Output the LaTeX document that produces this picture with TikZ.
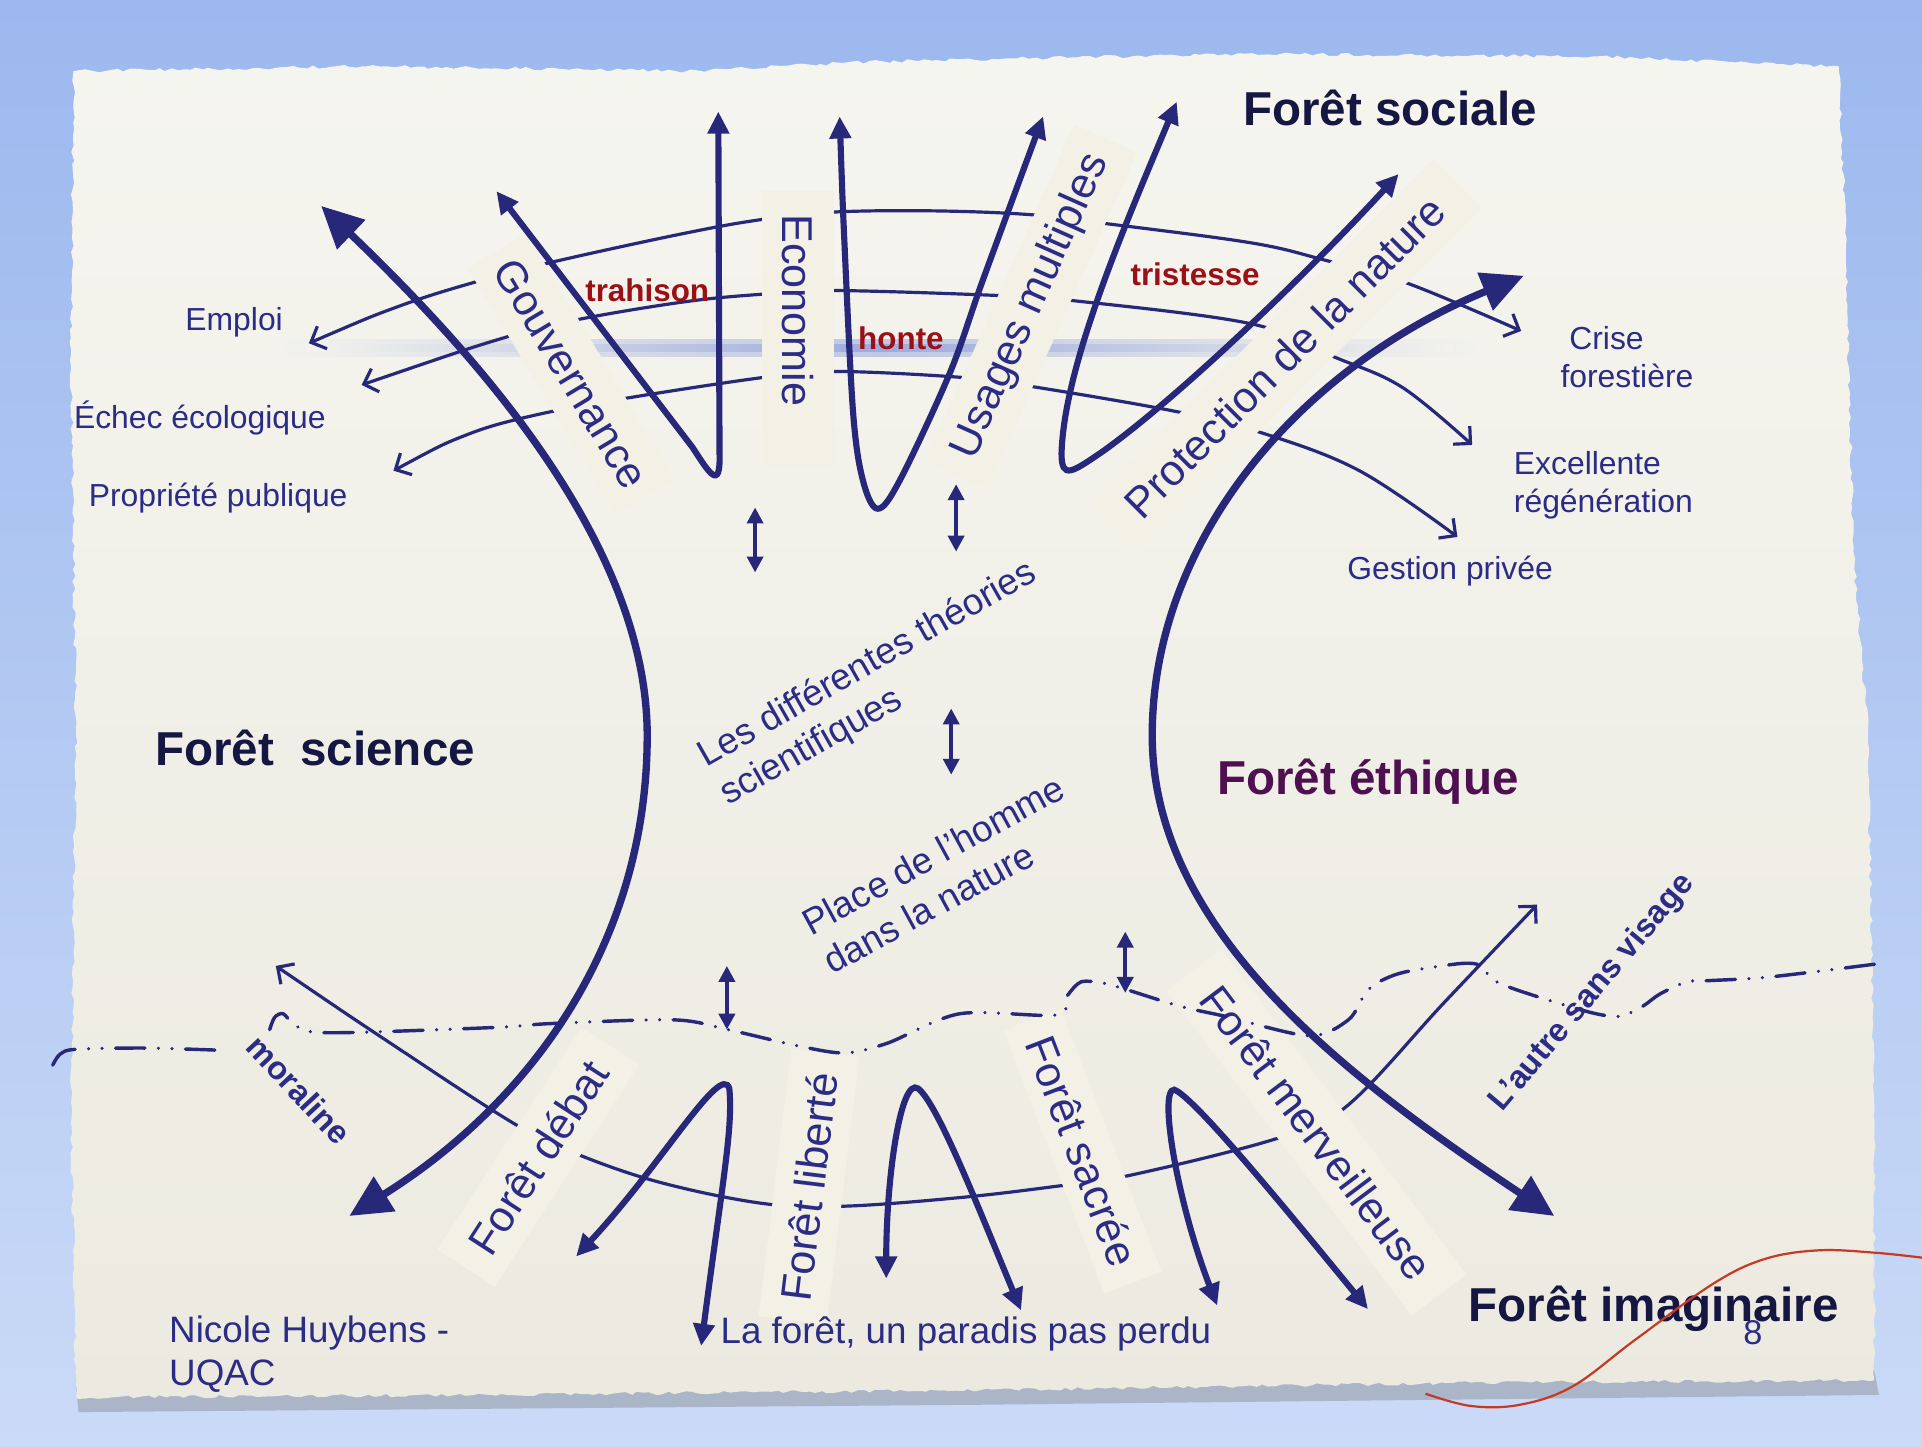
\documentclass[tikz,border=0pt]{standalone}
\usepackage{fontspec}
\setmainfont{Liberation Sans}
\usetikzlibrary{arrows.meta}
\usetikzlibrary{decorations.pathmorphing}

\definecolor{navy}{RGB}{40,40,122}
\definecolor{navytext}{RGB}{44,44,134}
\definecolor{darktitle}{RGB}{22,22,66}
\definecolor{plum}{RGB}{78,16,80}
\definecolor{wine}{RGB}{155,16,22}
\definecolor{sky}{RGB}{156,184,238}
\definecolor{skylight}{RGB}{202,218,247}
\definecolor{paper}{RGB}{236,234,224}
\definecolor{paperlight}{RGB}{245,245,239}
\definecolor{cream}{RGB}{243,241,230}
\definecolor{haze}{RGB}{110,130,212}
\definecolor{thread}{RGB}{196,58,36}

\begin{document}
\begin{tikzpicture}[x=0.5pt, y=-0.5pt,
  bigcurve/.style={draw=navy, line width=3pt, {Triangle[length=17pt,width=16pt]}-{Triangle[length=17pt,width=16pt]}},
  loopline/.style={draw=navy, line width=2.5pt, {Triangle[length=9pt,width=8.5pt]}-{Triangle[length=9pt,width=8.5pt]}},
  thinarc/.style={draw=navy, line width=1.3pt, {Straight Barb[length=5pt,width=10pt]}-{Straight Barb[length=5pt,width=10pt]}},
  twoway/.style={draw=navy, line width=1.6pt, {Triangle[length=6.5pt,width=6.5pt]}-{Triangle[length=6.5pt,width=6.5pt]}},
  dashdot/.style={draw=navy, line width=1.4pt, line cap=round, dash pattern=on 12pt off 5.5pt on 0.01pt off 5.5pt on 0.01pt off 5.5pt},
  band/.style={fill=cream, text=navytext, inner sep=0pt, minimum height=28pt, font=\fontsize{17.6}{20}\selectfont},
  small/.style={text=navytext, font=\fontsize{13}{15.5}\selectfont},
  mid/.style={text=navytext, font=\fontsize{15}{18}\selectfont},
  title/.style={font=\bfseries\fontsize{19.4}{22}\selectfont},
  feeling/.style={text=wine, font=\bfseries\fontsize{12.8}{15}\selectfont},
  tag/.style={text=navytext, font=\bfseries\fontsize{13.2}{15}\selectfont},
]
\pgfmathsetseed{12}

% fond et papier
\useasboundingbox (0,0) rectangle (1568,1180);
\shade[top color=sky, bottom color=skylight] (0,0) rectangle (1568,1180);
\fill[black!55, opacity=.35] (62,1128) -- (1529,1118) -- (1533,1138) -- (800,1146) -- (64,1152) -- cycle;
\shade[top color=paperlight, bottom color=paper, decorate, decoration={random steps, segment length=2.5pt, amplitude=0.7pt}]
  (60,58) -- (300,54) -- (560,58) -- (720,50) -- (1000,44) -- (1300,46) -- (1500,54) -- (1506,200) -- (1512,450)
  -- (1524,600) -- (1529,900) -- (1529,1126) -- (1200,1128) -- (800,1134) -- (400,1138) -- (62,1140)
  -- (58,900) -- (62,600) -- (58,300) -- cycle;

% trainee bleue
\shade[left color=paperlight!80!paper, right color=paperlight!80!paper, middle color=haze!40!paperlight] (224,277) rectangle (1210,291);
\shade[left color=paperlight!80!paper, right color=paperlight!80!paper, middle color=haze!65!paperlight] (250,281) rectangle (1185,287);

% arcs fins
\coordinate (tipEmploi) at (252,280);
\coordinate (tipEchec) at (295,314);
\coordinate (tipPropriete) at (321,384);
\coordinate (tipCrise) at (1241,270);
\coordinate (tipExcellente) at (1201,363);
\coordinate (tipGestion) at (1189,438);
\coordinate (tipMoraline) at (225,788);
\coordinate (tipAutre) at (1254,738);

\draw[thinarc] plot[smooth, tension=0.6] coordinates {(tipEmploi) (325,250) (388,230) (454,213) (560,190) (622,179) (680,173) (760,172) (839,175) (899,182) (1020,198) (1080,212) (1148,231) (tipCrise)};
\draw[thinarc] plot[smooth, tension=0.6] coordinates {(tipEchec) (413,275) (475,260) (560,246) (622,240) (680,237) (813,241) (873,245) (1020,264) (1088,291) (1144,316) (tipExcellente)};
\draw[thinarc] plot[smooth, tension=0.6] coordinates {(tipPropriete) (380,355) (435,339) (510,325) (622,308) (680,303) (786,308) (846,316) (961,336) (1029,353) (1109,384) (tipGestion)};
\draw[thinarc] plot[smooth, tension=0.6] coordinates {(tipMoraline) (320,852) (420,917) (472,942) (540,965) (624,982) (689,984) (783,977) (860,968) (921,959) (1041,929) (1098,903) (1179,817) (tipAutre)};

% bandeaux
\node[band, rotate=-59, minimum width=117pt] (gouv) at (466,305) {Gouvernance};
\node[band, rotate=-90, minimum height=29pt, inner xsep=9.5pt, text width=93pt, align=left] (eco) at (651,268) {Economie};
\node[band, rotate=66, minimum width=150pt] (usages) at (841,250) {Usages multiples};
\node[band, rotate=45, minimum width=200pt] (protect) at (1048,291) {Protection de la nature};
\node[band, rotate=57, minimum width=108pt] (debat) at (439,944) {Forêt débat};
\node[band, rotate=83, minimum width=110pt] (liberte) at (660,968) {Forêt liberté};
\node[band, rotate=-69, minimum width=115pt, minimum height=25pt] (sacree) at (883,939) {Forêt sacrée};
\node[band, rotate=-53, minimum width=166pt] (merveil) at (1074,924) {Forêt merveilleuse};

% boucles
\coordinate (gouvTip) at (405,156);
\coordinate (ecoTipL) at (586,91);
\coordinate (ecoTipR) at (685,95);
\coordinate (usagesTip) at (851,95);
\coordinate (usagesTipR) at (960,83);
\coordinate (protectTip) at (1141,142);
\draw[loopline] (gouvTip) -- (565,365) .. controls (578,385) and (588,402) .. (587,370) -- (ecoTipL);
\draw[loopline] plot[smooth, tension=0.55] coordinates {(ecoTipR) (689,200) (696,337) (704,392) (716,415) (734,392) (775,304) (802,228) (usagesTip)};
\draw[loopline] (usagesTipR) .. controls (915,190) and (868,300) .. (866,370) .. controls (866,392) and (875,385) .. (900,368) .. controls (960,325) and (1060,230) .. (protectTip);

\coordinate (B1L) at (470,1025);
\coordinate (B1R) at (572,1098);
\coordinate (B2L) at (723,1043);
\coordinate (B2R) at (833,1069);
\coordinate (B3L) at (993,1065);
\coordinate (B3R) at (1116,1068);
\draw[loopline] (B1L) .. controls (540,950) and (588,866) .. (595,888) .. controls (598,920) and (590,960) .. (B1R);
\draw[loopline] (B2L) .. controls (723,960) and (735,878) .. (749,888) .. controls (765,900) and (800,990) .. (B2R);
\draw[loopline] (B3L) .. controls (960,980) and (945,888) .. (958,889) .. controls (975,895) and (1060,1000) .. (B3R);

% grandes courbes
\coordinate (scienceTop) at (262,168);
\coordinate (scienceMid) at (528,600);
\coordinate (scienceBot) at (285,992);
\coordinate (ethiqueTop) at (1243,225);
\coordinate (ethiqueMid) at (940,600);
\coordinate (ethiqueBot) at (1268,992);
\draw[bigcurve] (scienceTop) .. controls (400,300) and (528,450) .. (scienceMid) .. controls (528,770) and (432,900) .. (scienceBot);
\draw[bigcurve] (ethiqueTop) .. controls (1060,300) and (940,440) .. (ethiqueMid) .. controls (940,760) and (1100,880) .. (ethiqueBot);

% petites fleches
\foreach \k/\x/\ya/\yb in {1/616/414/467, 2/780/395/450, 3/776/578/632, 4/593/788/840, 5/918/760/810}{
  \coordinate (U\k) at (\x,\ya);
  \coordinate (D\k) at (\x,\yb);
  \draw[twoway] (U\k) -- (D\k);
}

% frontiere
\draw[dashdot] plot[smooth, tension=0.5] coordinates {(43,869) (49,860) (62,856) (120,855) (185,857)};
\draw[dashdot] plot[smooth, tension=0.5] coordinates {(220,840) (224,830) (231,827) (240,836) (256,842) (300,842) (408,838) (450,835) (550,832) (594,840) (650,853) (689,859) (724,851) (783,827) (862,828) (871,812) (882,801) (900,802) (918,807) (963,821) (999,829) (1068,845) (1100,832) (1114,810) (1125,801) (1146,793) (1192,786) (1209,788) (1216,798) (1233,806) (1270,818) (1302,827) (1322,829) (1340,821) (1354,811) (1376,801) (1394,800) (1444,797) (1534,786)};

% textes
\node[small] (emploi) at (191,263) {Emploi};
\node[small] (echec) at (163,341) {Échec écologique};
\node[small] (propriete) at (178,406) {Propriété publique};
\node[small, anchor=west, align=left] (crise) at (1266,291) {\ Crise\\forestière};
\node[small, anchor=west, align=left] (excellente) at (1228,396) {Excellente\\régénération};
\node[small] (gestion) at (1183,466) {Gestion privée};

\node[feeling] (trahison) at (528,237) {trahison};
\node[feeling] (honte) at (735,276) {honte};
\node[feeling] (tristesse) at (975,224) {tristesse};

\node[title, text=darktitle] (sociale) at (1134,88) {Forêt sociale};
\node[title, text=darktitle] (science) at (257,610) {Forêt\ \ science};
\node[title, text=plum] (ethique) at (1116,638) {Forêt éthique};
\node[title, text=darktitle] (imaginaire) at (1349,1068) {Forêt imaginaire};

\node[mid, rotate=29.6, align=left] (theories) at (717,558) {Les différentes théories\\scientifiques};
\node[mid, rotate=28.6, align=left] (place) at (770,713) {Place de l’homme\\dans la nature};

\node[tag, rotate=-47] (moraline) at (244,889) {moraline};
\node[tag, rotate=50] (autre) at (1299,810) {L’autre sans visage};

\node[mid, anchor=west, align=left, font=\fontsize{15}{17.5}\selectfont] (auteur) at (131,1105) {Nicole Huybens -\\UQAC};
\node[mid] (paradis) at (788,1088) {La forêt, un paradis pas perdu};
\node[text=navytext, font=\fontsize{14}{16}\selectfont] (page) at (1430,1087) {8};

% fil rouge
\draw[thread, line width=0.9pt] plot[smooth, tension=0.6] coordinates {(1163,1137) (1200,1147) (1240,1146) (1283,1131) (1334,1093) (1398,1047) (1440,1027) (1484,1020) (1530,1022) (1568,1026)};
\end{tikzpicture}
\end{document}
